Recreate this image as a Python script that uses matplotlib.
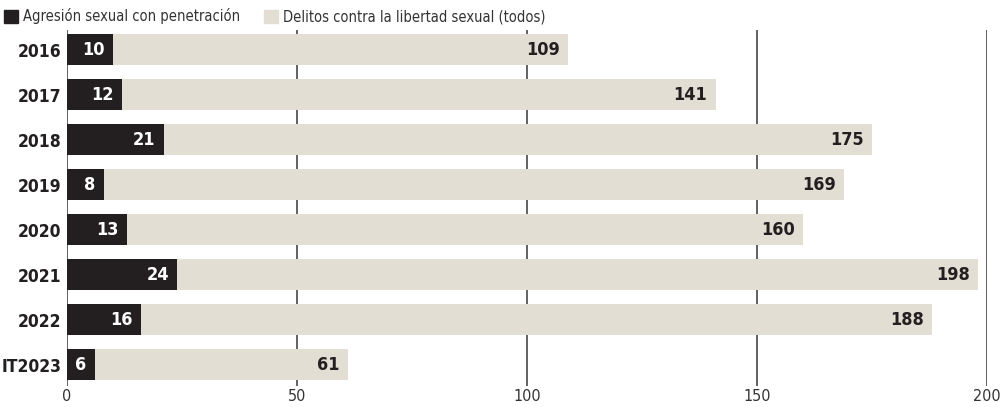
import matplotlib
matplotlib.use("Agg")
import matplotlib.pyplot as plt
from matplotlib.patches import Patch

years = ["2016", "2017", "2018", "2019", "2020", "2021", "2022", "IT2023"]
penetracion = [10, 12, 21, 8, 13, 24, 16, 6]
todos = [109, 141, 175, 169, 160, 198, 188, 61]
xticks = [0, 50, 100, 150, 200]

dark = "#231f20"
beige = "#e2ded3"
plt.rcParams["font.family"] = ["DejaVu Sans"]
plt.rcParams["font.stretch"] = "condensed"

fig = plt.figure(figsize=(10, 4.07), dpi=100)
ax = fig.add_axes([0.067, 0.0516, 0.92, 0.8747])

pos = list(range(len(years)))
ax.barh(pos, todos, height=0.69, color=beige, zorder=2)
ax.barh(pos, penetracion, height=0.69, color=dark, zorder=3)

for i in pos:
    ax.annotate(str(todos[i]), (todos[i], i), xytext=(-6, 0), textcoords="offset points",
                ha="right", va="center", fontsize=13, fontweight="bold", color=dark, zorder=4)
    ax.annotate(str(penetracion[i]), (penetracion[i], i), xytext=(-6, 0), textcoords="offset points",
                ha="right", va="center", fontsize=13, fontweight="bold", color="white", zorder=4)

ax.set_xlim(0, 200)
ax.set_ylim(7.47, -0.44)
ax.set_xticks(xticks)
ax.set_xticklabels([str(t) for t in xticks], fontsize=11.5, color="#333333")
ax.set_yticks(pos)
ax.set_yticklabels(years, fontsize=12.5, fontweight="bold", color=dark)
ax.tick_params(axis="both", length=0)
ax.tick_params(axis="x", pad=2.5)
ax.tick_params(axis="y", pad=4)
ax.grid(axis="x", color="#555555", linewidth=1.3, zorder=1)
ax.set_axisbelow(True)
for s in ax.spines.values():
    s.set_visible(False)

handles = [Patch(color=dark, label="Agresión sexual con penetración"),
           Patch(color=beige, label="Delitos contra la libertad sexual (todos)")]
fig.legend(handles=handles, loc="upper left", bbox_to_anchor=(0.0, 0.99), ncol=2,
           frameon=False, fontsize=10.5, handlelength=0.95, handleheight=0.95,
           handletextpad=0.35, columnspacing=1.6, borderaxespad=0, borderpad=0.3,
           labelcolor="#333333")

fig.savefig("out.png", dpi=100)
